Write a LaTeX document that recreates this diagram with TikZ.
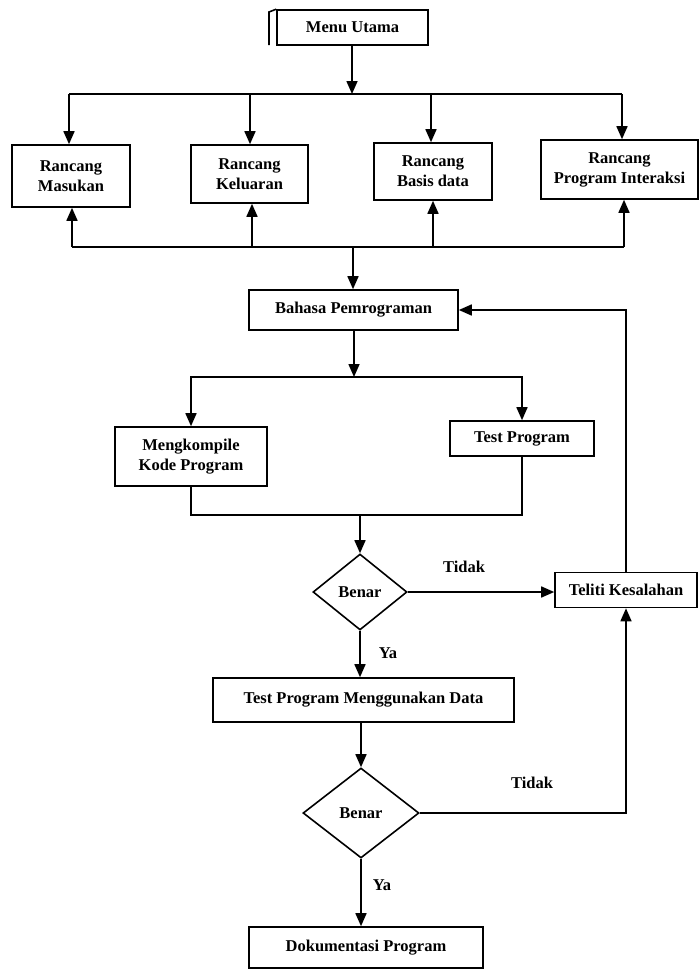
\documentclass[tikz,border=0pt]{standalone}
\usepackage{fontspec}
\setmainfont{Liberation Serif}
\usetikzlibrary{arrows.meta, shapes.geometric}

\begin{document}
\begin{tikzpicture}[x=1pt, y=-1pt, line width=1.6pt,
    box/.style={draw, rectangle, inner sep=0pt, align=center, font=\bfseries\fontsize{16.5}{20}\selectfont},
    cond/.style={draw, diamond, inner sep=0pt, font=\bfseries\fontsize{16.5}{20}\selectfont},
    lbl/.style={inner sep=0pt, font=\bfseries\fontsize{16.5}{20}\selectfont},
    arr/.style={-{Triangle[length=13pt,width=11pt]}}]
            \useasboundingbox (0,0) rectangle (700,977);
            \node [box, minimum width=151pt, minimum height=35pt] (menu) at (352.5,27.5) {Menu Utama};
            \draw (269,45) -- (269,12) -- (menu.north west);
            \node [box, minimum width=118pt, minimum height=62pt] (masukan) at (71,176) {Rancang\\Masukan};
            \node [box, minimum width=117pt, minimum height=58pt] (keluaran) at (249.5,174) {Rancang\\Keluaran};
            \node [box, minimum width=118pt, minimum height=57pt] (basis) at (433,171.5) {Rancang\\Basis data};
            \node [box, minimum width=157pt, minimum height=59pt] (interaksi) at (619.5,169.5) {Rancang\\Program Interaksi};
            \node [box, minimum width=209pt, minimum height=40pt] (bahasa) at (353.5,310) {Bahasa Pemrograman};
            \node [box, minimum width=152pt, minimum height=59pt] (kompile) at (191,456.5) {Mengkompile\\Kode Program};
            \node [box, minimum width=144pt, minimum height=35pt] (test) at (522,438.5) {Test Program};
            \node [cond, minimum width=94pt, minimum height=76pt] (benar1) at (360,592) {Benar};
            \node [box, minimum width=142pt, minimum height=35pt] (teliti) at (626,590) {Teliti Kesalahan};
            \node [box, minimum width=301pt, minimum height=44pt] (data) at (363.5,700) {Test Program Menggunakan Data};
            \node [cond, minimum width=116pt, minimum height=90pt] (benar2) at (361,813) {Benar};
            \node [box, minimum width=234pt, minimum height=41pt] (dok) at (366,947.5) {Dokumentasi Program};
            \coordinate (atas) at (352,94);
            \coordinate (bawah) at (353,247);
            \coordinate (cabang) at (354,377);
            \coordinate (gabung) at (360,515);
            \draw [arr] (menu.south -| atas) -- (atas);
            \draw (69,94) -- (622,94);
            \draw [arr] (69,94) -- (masukan.north -| 69,0);
            \draw [arr] (250,94) -- (keluaran.north -| 250,0);
            \draw [arr] (431,94) -- (basis.north -| 431,0);
            \draw [arr] (622,94) -- (interaksi.north -| 622,0);
            \draw (72,247) -- (624,247);
            \draw [arr] (72,247) -- (masukan.south -| 72,0);
            \draw [arr] (252,247) -- (keluaran.south -| 252,0);
            \draw [arr] (433,247) -- (basis.south -| 433,0);
            \draw [arr] (624,247) -- (interaksi.south -| 624,0);
            \draw [arr] (bawah) -- (bahasa.north -| bawah);
            \draw [arr] (bahasa.south -| cabang) -- (cabang);
            \draw [arr] (cabang) -| (kompile.north);
            \draw [arr] (cabang) -| (test.north);
            \draw (kompile.south) |- (gabung) -| (test.south);
            \draw [arr] (gabung) -- (benar1.north);
            \draw [arr] (benar1.east) -- (benar1.east -| teliti.west);
            \node [lbl] (tidak1) at (464,567) {Tidak};
            \draw [arr] (teliti.north) |- (bahasa.east);
            \draw [arr] (benar1.south) -- (benar1.south |- data.north);
            \node [lbl] (ya1) at (388,653) {Ya};
            \draw [arr] (data.south -| benar2) -- (benar2.north);
            \draw [arr] (benar2.east) -| (teliti.south);
            \node [lbl] (tidak2) at (532,783) {Tidak};
            \draw [arr] (benar2.south) -- (benar2.south |- dok.north);
            \node [lbl] (ya2) at (382,885) {Ya};
\end{tikzpicture}
\end{document}
